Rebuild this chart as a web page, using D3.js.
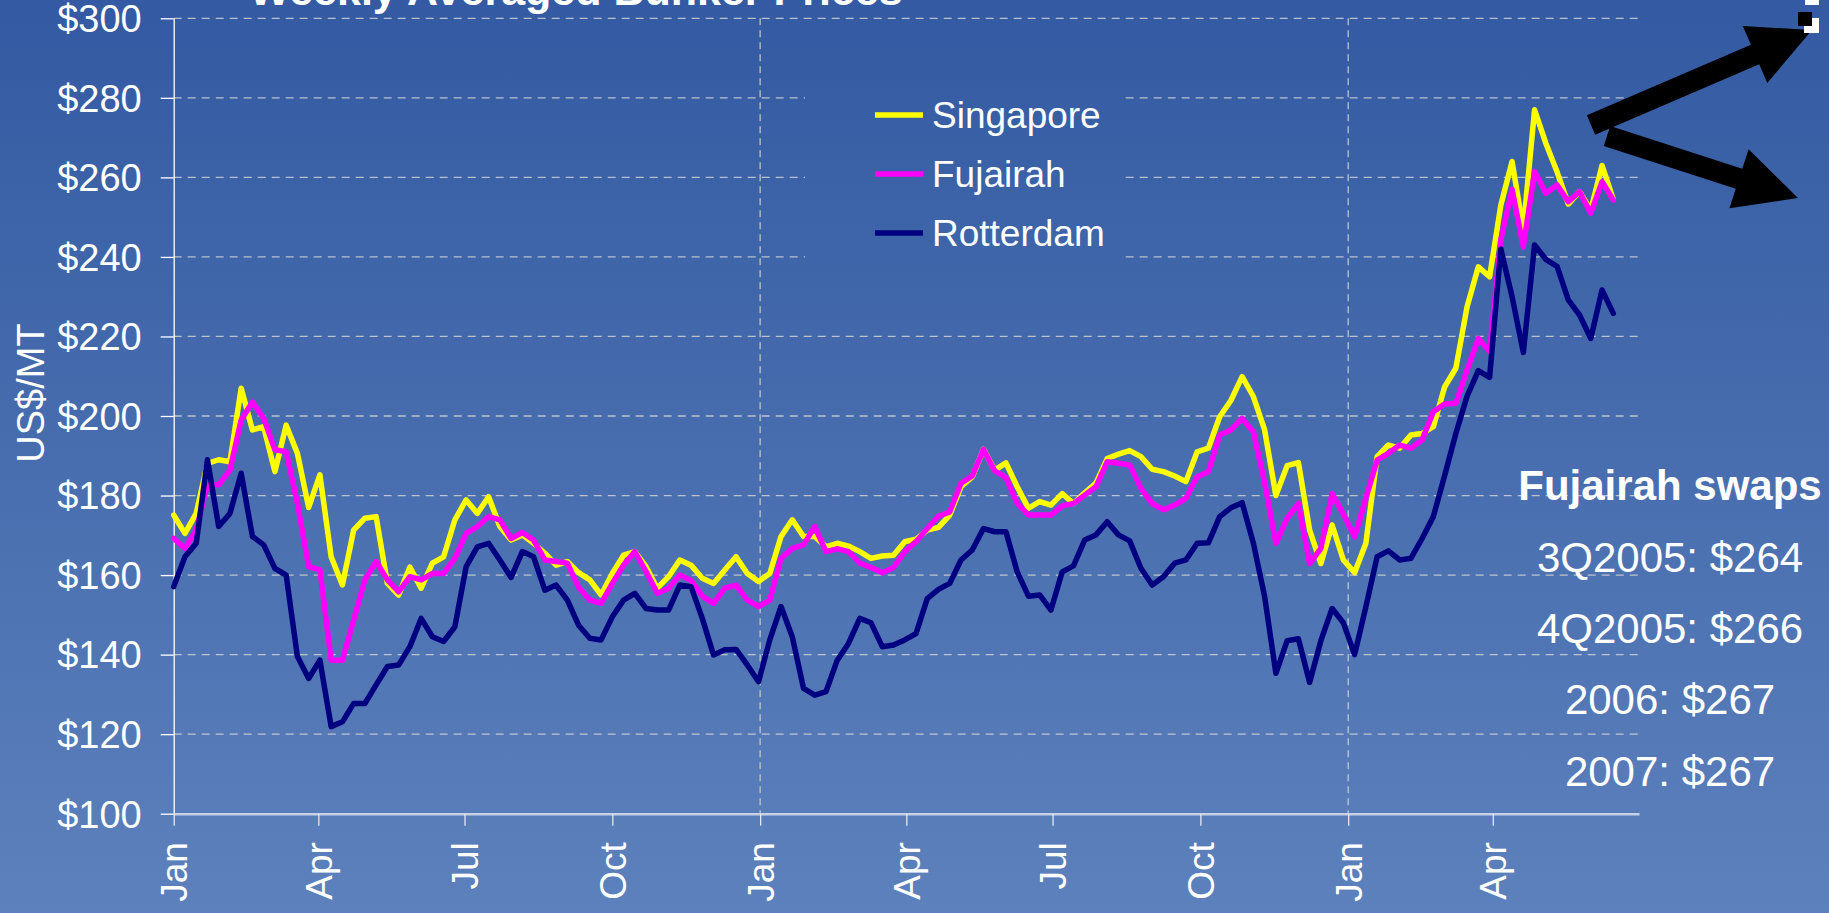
<!DOCTYPE html>
<html>
<head>
<meta charset="utf-8">
<script src="https://cdnjs.cloudflare.com/ajax/libs/d3/7.8.5/d3.min.js"></script>
<style>
    body { margin: 0; overflow: hidden; }
    #chart-area text { font-family: "Liberation Sans", Arial, sans-serif; fill: #ffffff; }
</style>
</head>
<body>
<div id="chart-area"></div>
<script>

// weekly averaged prices, US$/MT, one value per week starting 1 Jan 2003
var firstWeek = new Date(2003, 0, 1);

var singapore = [175.1, 170.5, 175.5, 188.1, 189, 188.5, 207, 196.5, 197.3, 186,
    197.7, 190.6, 177, 185.2, 164.6, 157.5, 171.3, 174.3, 174.7, 157.9,
    155, 162, 156.7, 163, 164.6, 173.9, 178.9, 175.5, 179.7, 172.2,
    168.8, 170.1, 168, 165.5, 162.5, 163.4, 160.6, 158.8, 155, 160.4,
    165, 165.9, 162.1, 156.7, 159.6, 163.8, 162.5, 159.2, 157.9, 161.3,
    164.6, 160.4, 158.4, 160.4, 169.7, 173.9, 169.7, 169.7, 167.1, 168,
    167.3, 165.9, 164.2, 164.8, 165, 168.4, 169, 171.3, 172, 175.1,
    182.2, 184.7, 191.6, 186.4, 188.2, 182.2, 176.8, 178.5, 177.6, 180.5,
    178, 180.7, 183.1, 189.3, 190.4, 191.3, 189.8, 186.6, 186, 184.9,
    183.5, 191, 191.9, 199.8, 203.9, 209.9, 204.9, 196.5, 180, 187.5,
    188.3, 171.3, 162.9, 172.6, 163.8, 160.6, 168, 189.8, 192.7, 191.9,
    195.2, 195.6, 197.3, 207.3, 212, 227.5, 237.5, 235, 253, 264,
    247, 277, 268.6, 261.4, 253.3, 256.4, 251.8, 263, 254.5];

var fujairah = [169.2, 166.7, 171.3, 182.7, 182.7, 186.4, 199, 203.5, 199.4, 191.5,
    191, 178, 162.1, 161.3, 138.6, 138.6, 148.7, 158.8, 163.4, 158.8,
    155.8, 159.6, 158.8, 160.4, 160.4, 164.2, 170.5, 172.2, 174.7, 173.9,
    169.2, 170.7, 168.8, 163.8, 163.4, 163, 156.9, 153.7, 152.9, 157.9,
    162.5, 165.9, 160.9, 155.4, 156.7, 160, 158.6, 154.7, 152.9, 156.7,
    157.5, 153.7, 152.1, 153.7, 164.2, 166.7, 167.6, 172.2, 165.9, 166.6,
    165.9, 163, 161.9, 160.6, 161.9, 165.9, 168.4, 171.7, 174.8, 175.9,
    183.1, 184.9, 191.6, 186.2, 184.5, 178, 175.1, 175.1, 175.1, 177.4,
    178, 180.1, 182.2, 188.5, 188.1, 187.7, 181.8, 178, 176.4, 177.6,
    179.3, 184.7, 186, 195.2, 196.5, 199.4, 196, 183.1, 168, 174.3,
    178, 162.9, 166.7, 180.5, 175.3, 169.6, 179.3, 188.9, 190.6, 192.7,
    191.9, 194, 201.1, 203, 203.2, 211.6, 219.5, 216.2, 244.3, 257,
    242.5, 261.5, 256, 258.1, 253.9, 256.4, 251, 258.9, 254.3];

var rotterdam = [157.1, 164.6, 168, 189, 172.2, 175.5, 185.6, 169.7, 167.6, 161.7,
    160, 139.5, 134, 138.6, 121.9, 123.1, 127.7, 127.7, 132.4, 137,
    137.4, 142, 149.1, 144.5, 143.3, 147, 162.1, 167.1, 168, 163.8,
    159.4, 165.9, 164.6, 156.2, 157.5, 153.7, 147.4, 144.1, 143.7, 149.5,
    153.7, 155.4, 151.6, 151.2, 151.2, 157.5, 157.1, 149.1, 139.9, 141.2,
    141.3, 137.4, 133.2, 143.7, 152.1, 144.5, 131.5, 129.8, 130.7, 138.6,
    142.8, 149.1, 148, 142, 142.4, 143.7, 145.3, 154.1, 156.4, 157.9,
    163.8, 166.3, 171.7, 170.9, 170.9, 160.8, 154.7, 155, 151.2, 160.8,
    162.3, 168.8, 170.1, 173.4, 170.1, 168.6, 161.7, 157.5, 159.6, 163,
    163.8, 168, 168.1, 174.7, 176.9, 178.2, 168, 154.6, 135.3, 143.5,
    144, 133, 143.5, 151.6, 148, 140, 152, 164.6, 166.1, 163.8,
    164.2, 169.2, 174.7, 185, 195.6, 205, 211.4, 209.7, 242, 230,
    216, 243, 239.4, 237.6, 229.2, 225.4, 219.5, 231.7, 225.8];

var seriesNames = ["Singapore", "Fujairah", "Rotterdam"];
var seriesColors = ["#ffff00", "#ff00ff", "#000080"];

var yTickValues = [100, 120, 140, 160, 180, 200, 220, 240, 260, 280, 300];
var xTickDates = d3.timeMonth.every(3).range(new Date(2003, 0, 1), new Date(2005, 3, 2));
var yearLines = [new Date(2004, 0, 1), new Date(2005, 0, 1)];

var swapTitle = "Fujairah swaps";
var swapLines = ["3Q2005: $264", "4Q2005: $266", "2006: $267", "2007: $267"];


BunkerChart = function(_parentElement, _data){
    this.parentElement = _parentElement;
    this.data = _data;
    this.initVis();
}

BunkerChart.prototype.initVis = function() {
    var vis = this;

    vis.W = 1829;
    vis.H = 913;
    vis.margin = {top: 18.3, right: 190, bottom: 99.3, left: 173.7};
    vis.width = vis.W - vis.margin.left - vis.margin.right;
    vis.height = vis.H - vis.margin.top - vis.margin.bottom;

    vis.svg = d3.select("#" + vis.parentElement).append("svg")
        .attr("width", vis.W)
        .attr("height", vis.H);

    // slide background
    var grad = vis.svg.append("defs").append("linearGradient")
        .attr("id", "bg")
        .attr("gradientUnits", "userSpaceOnUse")
        .attr("x1", 0).attr("y1", 0).attr("x2", 0).attr("y2", vis.H);
    grad.append("stop").attr("offset", "0%").attr("stop-color", "#335aa2");
    grad.append("stop").attr("offset", "100%").attr("stop-color", "#5d81bc");

    vis.svg.append("rect")
        .attr("width", vis.W)
        .attr("height", vis.H)
        .attr("fill", "url(#bg)");

    vis.g = vis.svg.append("g")
        .attr("transform", "translate(" + vis.margin.left + "," + vis.margin.top + ")");

    vis.x = d3.scaleTime()
        .domain([new Date(2003, 0, 1), new Date(2005, 6, 1)])
        .range([0, vis.width]);

    vis.y = d3.scaleLinear()
        .domain([100, 300])
        .range([vis.height, 0]);

    // gridlines
    vis.g.selectAll(".hgrid")
        .data(yTickValues.filter(function(v) { return v > 100; }))
        .enter().append("line")
        .attr("class", "hgrid")
        .attr("x1", 0).attr("x2", vis.width)
        .attr("y1", function(d) { return vis.y(d); })
        .attr("y2", function(d) { return vis.y(d); })
        .attr("stroke", "#d2d2d2")
        .attr("stroke-opacity", 0.85)
        .attr("stroke-width", 1.3)
        .attr("stroke-dasharray", "8,6");

    vis.g.selectAll(".vgrid")
        .data(yearLines)
        .enter().append("line")
        .attr("class", "vgrid")
        .attr("x1", function(d) { return vis.x(d); })
        .attr("x2", function(d) { return vis.x(d); })
        .attr("y1", 0).attr("y2", vis.height)
        .attr("stroke", "#d2d2d2")
        .attr("stroke-opacity", 0.85)
        .attr("stroke-width", 1.3)
        .attr("stroke-dasharray", "7,5");

    // legend box hides the grid behind it
    vis.svg.append("rect")
        .attr("x", 805).attr("y", 60)
        .attr("width", 315).attr("height", 205)
        .attr("fill", "url(#bg)");

    // axes
    vis.yAxis = d3.axisLeft(vis.y)
        .tickValues(yTickValues)
        .tickSize(13)
        .tickSizeOuter(0)
        .tickPadding(19)
        .tickFormat(function(d) { return "$" + d; });

    vis.gY = vis.g.append("g")
        .attr("class", "y-axis axis")
        .call(vis.yAxis);
    vis.gY.select(".domain").attr("stroke", "#ffffff").attr("stroke-width", 1.3);
    vis.gY.selectAll(".tick line").attr("stroke", "#ffffff").attr("stroke-width", 1.3);
    vis.gY.selectAll("text")
        .attr("font-size", 38)
        .attr("dy", "0.35em");

    vis.xAxis = d3.axisBottom(vis.x)
        .tickValues(xTickDates)
        .tickSize(12)
        .tickSizeOuter(0)
        .tickFormat(d3.timeFormat("%b"));

    vis.gX = vis.g.append("g")
        .attr("class", "x-axis axis")
        .attr("transform", "translate(0," + vis.height + ")")
        .call(vis.xAxis);
    vis.gX.select(".domain").attr("stroke", "#c6d0e6").attr("stroke-width", 2.5);
    vis.gX.selectAll(".tick line").attr("stroke", "#e4e8f2").attr("stroke-width", 1.3);
    vis.gX.selectAll("text")
        .attr("font-size", 37)
        .attr("transform", "rotate(-90)")
        .attr("x", -28.5)
        .attr("y", 0)
        .attr("dy", "0.35em")
        .style("text-anchor", "end");

    // lines
    vis.line = d3.line()
        .x(function(d) { return vis.x(d.date); })
        .y(function(d) { return vis.y(d.value); });

    vis.g.selectAll(".lines")
        .data(vis.data)
        .enter()
        .append("path")
        .attr("class", "lines")
        .attr("fill", "none")
        .attr("stroke-linejoin", "round")
        .attr("stroke-linecap", "round")
        .attr("stroke-width", 5.5)
        .style("stroke", function(d, i) { return seriesColors[i]; })
        .attr("d", function(d) { return vis.line(d.values); });

    // axis title
    vis.svg.append("text")
        .attr("transform", "translate(44,393) rotate(-90)")
        .attr("text-anchor", "middle")
        .attr("font-size", 38)
        .text("US$/MT");

    // chart title, cut at the top of the slide
    vis.svg.append("text")
        .attr("x", 576)
        .attr("y", 5)
        .attr("text-anchor", "middle")
        .attr("font-size", 43)
        .attr("font-weight", "bold")
        .text("Weekly Averaged Bunker Prices");

    // legend
    vis.legend = vis.svg.append("g")
        .attr("transform", "translate(" + 875 + "," + 115 + ")");

    vis.legend.selectAll("line")
        .data(vis.data)
        .enter()
        .append("line")
        .attr("x1", 0).attr("x2", 48)
        .attr("y1", function(d, i) { return 59 * i; })
        .attr("y2", function(d, i) { return 59 * i; })
        .attr("stroke-width", 5.5)
        .attr("stroke", function(d, i) { return seriesColors[i]; });

    vis.legend.selectAll("text")
        .data(vis.data)
        .enter()
        .append("text")
        .attr("x", 57)
        .attr("y", function(d, i) { return 59 * i; })
        .attr("dy", "0.36em")
        .attr("font-size", 37)
        .text(function(d) { return d.name; });

    // swap prices note
    vis.note = vis.svg.append("g")
        .attr("transform", "translate(1670,0)");

    vis.note.append("text")
        .attr("y", 500)
        .attr("text-anchor", "middle")
        .attr("font-size", 42)
        .attr("font-weight", "bold")
        .text(swapTitle);

    vis.note.selectAll(".swap")
        .data(swapLines)
        .enter()
        .append("text")
        .attr("class", "swap")
        .attr("y", function(d, i) { return 572 + 71.2 * i; })
        .attr("text-anchor", "middle")
        .attr("font-size", 42)
        .text(function(d) { return d; });

    // the two black arrows of the slide
    var arrows = [
        {tail: [1591, 125], tip: [1812, 30]},
        {tail: [1607, 136], tip: [1798, 198]}
    ];
    vis.svg.selectAll(".arrow")
        .data(arrows)
        .enter()
        .append("path")
        .attr("class", "arrow")
        .attr("fill", "#000000")
        .attr("d", function(d) { return arrowPath(d.tail, d.tip, 21, 62, 62); });

    // selection handle left on the slide
    vis.svg.append("rect").attr("x", 1805).attr("y", 0).attr("width", 14).attr("height", 5).attr("fill", "#ffffff");
    vis.svg.append("rect").attr("x", 1804).attr("y", 18).attr("width", 15).attr("height", 15).attr("fill", "#ffffff");
    vis.svg.append("rect").attr("x", 1798).attr("y", 12).attr("width", 14).attr("height", 14).attr("fill", "#000000");
}

function arrowPath(tail, tip, shaftW, headW, headL) {
    var dx = tip[0] - tail[0], dy = tip[1] - tail[1];
    var len = Math.sqrt(dx * dx + dy * dy);
    var ux = dx / len, uy = dy / len;
    var nx = -uy, ny = ux;
    var bx = tip[0] - ux * headL, by = tip[1] - uy * headL;
    var pts = [
        [tail[0] + nx * shaftW / 2, tail[1] + ny * shaftW / 2],
        [bx + nx * shaftW / 2, by + ny * shaftW / 2],
        [bx + nx * headW / 2, by + ny * headW / 2],
        tip,
        [bx - nx * headW / 2, by - ny * headW / 2],
        [bx - nx * shaftW / 2, by - ny * shaftW / 2],
        [tail[0] - nx * shaftW / 2, tail[1] - ny * shaftW / 2]
    ];
    return "M" + pts.map(function(p) { return p[0] + "," + p[1]; }).join("L") + "Z";
}

var chartData = [singapore, fujairah, rotterdam].map(function(vals, i) {
    return {
        name: seriesNames[i],
        values: vals.map(function(v, w) {
            return {date: d3.timeDay.offset(firstWeek, 7 * w), value: v};
        })
    };
});

var chart = new BunkerChart("chart-area", chartData);

</script>
</body>
</html>
